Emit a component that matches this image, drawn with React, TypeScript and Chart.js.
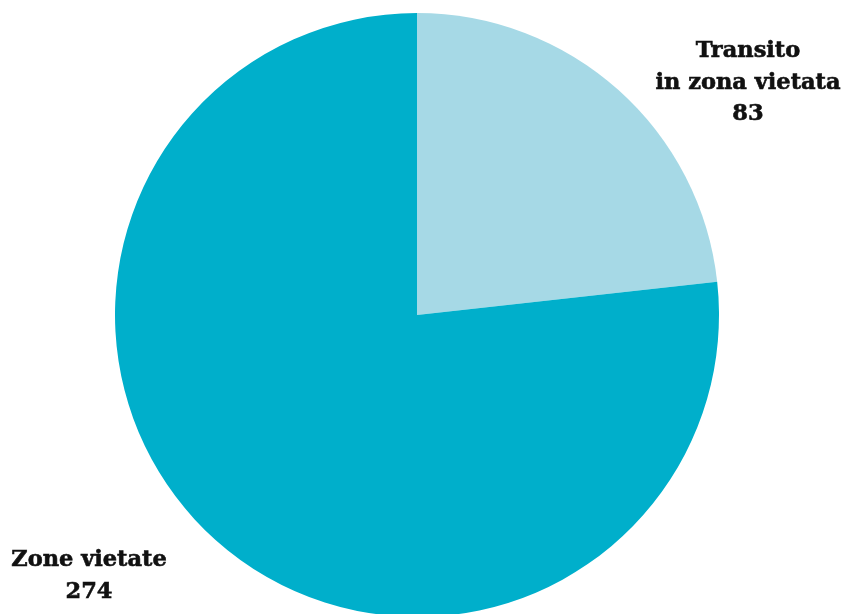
import React, { useEffect, useRef } from "react";
import { Chart, registerables } from "chart.js";

Chart.register(...registerables);

const categories = ["Transito in zona vietata", "Zone vietate"];
const values = [83, 274];
const colors = ["#a6d9e6", "#00afcb"];
const labelLines = [["Transito", "in zona vietata", "83"], ["Zone vietate", "274"]];

const labelPlugin = {
  id: "sideLabels",
  afterDraw(chart: any) {
    const ctx = chart.ctx;
    ctx.save();
    ctx.fillStyle = "#111111";
    ctx.strokeStyle = "#111111";
    ctx.lineWidth = 0.6;
    ctx.font = "bold 22.5px 'DejaVu Serif'";
    ctx.textAlign = "center";
    ctx.textBaseline = "alphabetic";
    const anchors = [
      { x: 748, y: 57, lh: 31.5 },
      { x: 89, y: 566, lh: 31.5 },
    ];
    labelLines.forEach((lines, i) => {
      lines.forEach((t, j) => {
        const y = anchors[i].y + j * anchors[i].lh;
        ctx.fillText(t, anchors[i].x, y);
        ctx.strokeText(t, anchors[i].x, y);
      });
    });
    ctx.restore();
  },
};

export default function App() {
  const ref = useRef<HTMLCanvasElement>(null);
  useEffect(() => {
    document.body.style.margin = "0";
    const chart = new Chart(ref.current!, {
      type: "pie",
      data: {
        labels: categories,
        datasets: [
          {
            data: values,
            backgroundColor: colors,
            borderWidth: 0,
          },
        ],
      },
      options: {
        responsive: false,
        animation: false,
        layout: { padding: { top: 13, bottom: 21, left: 115, right: 128 } },
        plugins: { legend: { display: false }, tooltip: { enabled: false } },
      },
      plugins: [labelPlugin],
    });
    return () => chart.destroy();
  }, []);
  return (
    <div style={{ position: "fixed", left: 0, top: 0, width: 847, height: 614, overflow: "hidden", background: "#fff" }}>
      <canvas ref={ref} width={847} height={638} style={{ display: "block" }} />
    </div>
  );
}
